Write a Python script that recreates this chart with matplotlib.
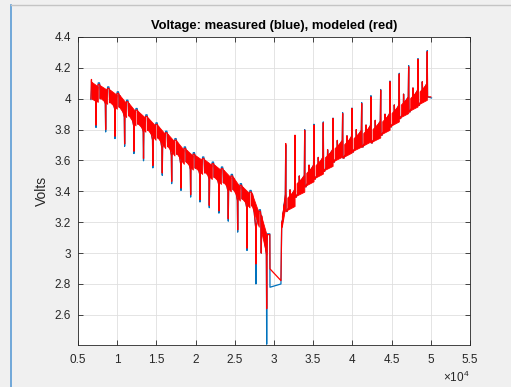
import matplotlib
matplotlib.use('Agg')
import matplotlib.pyplot as plt
from matplotlib.lines import Line2D

plt.rcParams['font.family'] = ['Liberation Sans', 'DejaVu Sans']
plt.rcParams['mathtext.fontset'] = 'custom'
plt.rcParams['mathtext.rm'] = 'Liberation Sans'

# time in units of 1e4 s, voltage in V

# ---- discharge: rest plateaus, deep pulse at the end of each cycle ----
dis_rest_x = [0.759, 0.879, 1.001, 1.121, 1.240, 1.366, 1.495, 1.619, 1.737,
              1.856, 1.971, 2.090, 2.213, 2.330, 2.455, 2.570, 2.694, 2.812]
dis_rest_meas = [4.103, 4.077, 4.045, 3.991, 3.937, 3.896, 3.844, 3.790, 3.742,
                 3.688, 3.651, 3.623, 3.590, 3.558, 3.510, 3.450, 3.406, 3.281]
dis_rest_model = [4.093, 4.067, 4.035, 3.981, 3.927, 3.886, 3.834, 3.780, 3.732,
                  3.678, 3.641, 3.613, 3.580, 3.548, 3.500, 3.440, 3.396, 3.271]
dis_spike_x = [0.730, 0.853, 0.972, 1.095, 1.214, 1.336, 1.455, 1.575, 1.695, 1.814,
               1.937, 2.056, 2.175, 2.298, 2.417, 2.537, 2.656, 2.770, 2.907]
dis_spike_meas = [3.814, 3.785, 3.742, 3.692, 3.645, 3.598, 3.552, 3.504, 3.450, 3.406,
                  3.363, 3.331, 3.294, 3.259, 3.207, 3.136, 3.017, 2.800, 2.410]
dis_spike_model = [3.829, 3.800, 3.757, 3.707, 3.660, 3.613, 3.567, 3.519, 3.465, 3.421,
                   3.378, 3.346, 3.309, 3.274, 3.222, 3.151, 3.032, 2.930, 2.640]
# small dip right after each rest
dis_dip = [4.00, 3.975, 3.945, 3.89, 3.835, 3.795, 3.745, 3.69, 3.64,
           3.59, 3.55, 3.52, 3.49, 3.455, 3.41, 3.35, 3.305, 3.00]
# dense band (top/bottom at band start and end)
dis_top0 = [4.110, 4.088, 4.062, 4.030, 3.976, 3.922, 3.881, 3.829, 3.775, 3.727,
            3.673, 3.636, 3.608, 3.575, 3.543, 3.495, 3.435, 3.391, 3.250]
dis_top1 = [4.080, 4.057, 4.025, 3.971, 3.917, 3.876, 3.824, 3.770, 3.722, 3.668,
            3.631, 3.603, 3.570, 3.538, 3.490, 3.430, 3.386, 3.261, 3.120]
dis_bot0 = [4.000, 4.008, 3.982, 3.950, 3.896, 3.842, 3.801, 3.749, 3.695, 3.647,
            3.593, 3.556, 3.528, 3.495, 3.463, 3.415, 3.355, 3.311, 3.150]
dis_bot1 = [3.980, 3.967, 3.935, 3.881, 3.827, 3.786, 3.734, 3.680, 3.632, 3.578,
            3.541, 3.513, 3.480, 3.448, 3.400, 3.340, 3.296, 3.171, 2.990]

# ---- gap between discharge and charge ----
gap_x = [2.915, 2.947, 2.949, 3.089, 3.098, 3.140]
gap_meas = [3.125, 3.125, 2.779, 2.800, 3.168, 3.342]
gap_model = [3.120, 3.120, 2.898, 2.822, 3.168, 3.330]

# ---- charge: upward pulse at the end of each cycle, then rest ----
chg_peak_x = [3.150, 3.268, 3.392, 3.510, 3.629, 3.753, 3.876, 3.995,
              4.119, 4.237, 4.361, 4.480, 4.598, 4.718, 4.837, 4.955]
chg_peak_model = [3.710, 3.764, 3.796, 3.829, 3.844, 3.872, 3.904, 3.937,
                  3.969, 4.012, 4.056, 4.110, 4.160, 4.207, 4.255, 4.305]
chg_peak_meas = [3.700, 3.760, 3.800, 3.835, 3.850, 3.875, 3.910, 3.940,
                 3.975, 4.020, 4.060, 4.115, 4.165, 4.215, 4.260, 4.312]
chg_rest = [3.270, 3.363, 3.430, 3.480, 3.530, 3.590, 3.616, 3.655,
            3.688, 3.714, 3.764, 3.818, 3.872, 3.915, 3.958, 4.012]
chg_mid = [3.41, 3.50, 3.57, 3.62, 3.67, 3.73, 3.76, 3.80,
           3.83, 3.86, 3.90, 3.96, 4.03, 4.07, 4.11]
chg_lo0 = [3.170, 3.280, 3.373, 3.440, 3.490, 3.540, 3.600, 3.626,
           3.665, 3.698, 3.724, 3.774, 3.828, 3.882, 3.925, 3.968]
chg_lo1 = [3.300, 3.305, 3.398, 3.465, 3.515, 3.565, 3.625, 3.651,
           3.690, 3.723, 3.749, 3.799, 3.853, 3.907, 3.950, 3.993]
chg_hi0 = [3.240, 3.360, 3.453, 3.520, 3.570, 3.620, 3.680, 3.706,
           3.745, 3.778, 3.804, 3.854, 3.908, 3.962, 4.005, 4.048]
chg_hi1 = [3.380, 3.410, 3.503, 3.570, 3.620, 3.670, 3.730, 3.756,
           3.795, 3.828, 3.854, 3.904, 3.958, 4.012, 4.055, 4.098]

start_x = [0.665, 0.672]
start_meas = [3.995, 4.060]
start_model = [4.000, 4.125]
end_x_meas, end_v_meas = 5.010, 4.005
end_x_model, end_v_model = 5.000, 4.012

xticks = [0.5, 1, 1.5, 2, 2.5, 3, 3.5, 4, 4.5, 5, 5.5]
xtick_labels = ['0.5', '1', '1.5', '2', '2.5', '3', '3.5', '4', '4.5', '5', '5.5']
yticks = [2.6, 2.8, 3.0, 3.2, 3.4, 3.6, 3.8, 4.0, 4.2, 4.4]
ytick_labels = ['2.6', '2.8', '3', '3.2', '3.4', '3.6', '3.8', '4', '4.2', '4.4']


def build_path(start_v, rest_v, spike_v, gap_v, peak_v, end_x, end_v):
    xs = list(start_x)
    ys = list(start_v)
    bands = []
    for k in range(len(dis_spike_x)):
        b0 = start_x[-1] if k == 0 else dis_rest_x[k - 1] + 0.02
        b1 = dis_rest_x[k] - 0.006 if k < len(dis_rest_x) else dis_spike_x[k] - 0.002
        bands.append((b0, b1, dis_bot0[k], dis_bot1[k], dis_top0[k], dis_top1[k]))
        xs.append(b0); ys.append(dis_top0[k])
        if k > 0:
            xs += [b0 + 0.006, b0 + 0.012]
            ys += [dis_dip[k - 1], dis_top0[k] - 0.01]
        sx = dis_spike_x[k]
        xs += [sx - 0.004, sx, sx + 0.004]
        ys += [dis_bot1[k], spike_v[k], dis_bot1[k]]
        if k < len(dis_rest_x):
            xs += [b1, dis_rest_x[k], dis_rest_x[k] + 0.015]
            ys += [dis_top1[k], rest_v[k], rest_v[k]]
    xs += gap_x
    ys += gap_v
    for k in range(len(chg_peak_x)):
        if k == 0:
            b0 = 3.100
        else:
            px = chg_peak_x[k - 1]
            xs += [px + 0.004, px + 0.018]
            ys += [chg_rest[k - 1], chg_rest[k - 1]]
            b0 = px + 0.02
        b1 = chg_peak_x[k] - 0.005
        bands.append((b0, b1, chg_lo0[k], chg_lo1[k], chg_hi0[k], chg_hi1[k]))
        xs.append(b0); ys.append(chg_lo0[k])
        if k > 0:
            mx = chg_peak_x[k - 1] + 0.055
            xs += [mx - 0.004, mx, mx + 0.004]
            ys += [chg_lo0[k] + 0.02, chg_mid[k - 1], chg_hi0[k]]
        xs += [b1, chg_peak_x[k]]
        ys += [chg_hi1[k], peak_v[k]]
    xs += [chg_peak_x[-1] + 0.004, end_x]
    ys += [chg_rest[-1], end_v]
    return xs, ys, bands


fig = plt.figure(figsize=(5.11, 3.87), dpi=100, facecolor='#f0f0f0')
ax = fig.add_axes([0.1526, 0.1098, 0.7671, 0.7946])

mx, my, _ = build_path(start_meas, dis_rest_meas, dis_spike_meas, gap_meas,
                       chg_peak_meas, end_x_meas, end_v_meas)
rx, ry, bands = build_path(start_model, dis_rest_model, dis_spike_model, gap_model,
                           chg_peak_model, end_x_model, end_v_model)

ax.plot(mx, my, color='#0072bd', lw=0.9, zorder=3)
for b0, b1, lo0, lo1, hi0, hi1 in bands:
    ax.fill_between([b0, b1], [lo0, lo1], [hi0, hi1], color='red', lw=0.6, zorder=4)
ax.plot(rx, ry, color='red', lw=0.9, zorder=5)

ax.set_xlim(0.5, 5.5)
ax.set_ylim(2.408, 4.4)
ax.set_xticks(xticks)
ax.set_xticklabels(xtick_labels)
ax.set_yticks(yticks)
ax.set_yticklabels(ytick_labels)
ax.tick_params(direction='in', length=3.5, width=0.6, colors='#262626',
               labelsize=8.5, top=True, right=True, pad=5)
ax.tick_params(axis='x', pad=7)
ax.grid(True, color='#dfdfdf', lw=0.6)
ax.set_axisbelow(True)
for s in ax.spines.values():
    s.set_color('#262626')
    s.set_linewidth(0.6)

ax.set_title('Voltage: measured (blue), modeled (red)', fontsize=9.4,
             fontweight='bold', color='black', pad=6)
ax.set_ylabel('Volts', fontsize=10, color='#262626', labelpad=4)
ax.text(1.0, -0.108, r'$\times10^{4}$', transform=ax.transAxes, ha='right',
        va='center', fontsize=8.5, color='#262626')

# window frame edges
fig.add_artist(Line2D([11 / 511, 11 / 511], [0, 1 - 5 / 387], color='#5b9bd5', lw=1.2))
fig.add_artist(Line2D([11 / 511, 1], [1 - 5 / 387, 1 - 5 / 387], color='#c4c4c4', lw=1))

fig.savefig('out.png', dpi=100, facecolor=fig.get_facecolor())
